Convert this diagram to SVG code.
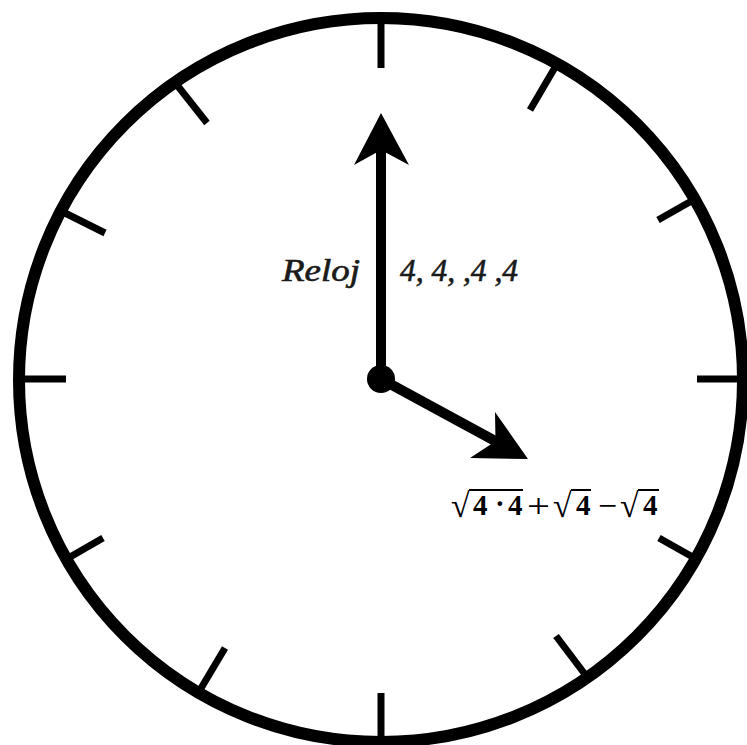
<svg xmlns="http://www.w3.org/2000/svg" width="747" height="745" viewBox="0 0 747 745">
<style>
.tick{stroke:#000;stroke-width:7;stroke-linecap:butt}
.hand{stroke:#000;stroke-width:10;fill:none}
.lbl{font-style:italic;font-size:31px;fill:#1a1a1a;stroke:#1a1a1a;stroke-width:0.6}
.eq{font-weight:bold;font-size:29px;fill:#000}
.op{font-size:34px;fill:#000}
.rad{font-size:34px;fill:#000}
.ovl{stroke:#000;stroke-width:2}
</style>
<rect width="747" height="745" fill="#fff"/>
<g id="dial">
<circle cx="381" cy="380" r="362" fill="none" stroke="#000" stroke-width="12"/>
<line class="tick" x1="381" y1="20" x2="381" y2="68"/>
<line class="tick" x1="557" y1="64" x2="530" y2="110"/>
<line class="tick" x1="695" y1="199" x2="658" y2="220"/>
<line class="tick" x1="744" y1="379" x2="697" y2="379"/>
<line class="tick" x1="698" y1="560" x2="659" y2="538"/>
<line class="tick" x1="584" y1="673" x2="556" y2="636"/>
<line class="tick" x1="381" y1="742" x2="381" y2="693"/>
<line class="tick" x1="200" y1="690" x2="225" y2="648"/>
<line class="tick" x1="70" y1="557" x2="103" y2="538"/>
<line class="tick" x1="18" y1="379" x2="66" y2="379"/>
<line class="tick" x1="63" y1="212" x2="105" y2="233"/>
<line class="tick" x1="177" y1="85" x2="207" y2="123"/>
</g>
<g id="connectors">
<g id="minute-hand">
<line class="hand" x1="381" y1="379" x2="381" y2="148"/>
<polygon points="381,113 409,165 381,150 354,165" fill="#000"/>
</g>
<g id="hour-hand">
<line class="hand" x1="381" y1="379" x2="497" y2="442"/>
<polygon points="528,459 495,412 495.5,441.3 470,458" fill="#000"/>
</g>
</g>
<g id="center">
<circle cx="381" cy="379" r="14" fill="#000"/>
</g>
<g id="label-reloj">
<text class="lbl" x="282" y="281" font-family="Liberation Serif, Times New Roman, serif" textLength="78" lengthAdjust="spacingAndGlyphs">Reloj</text>
</g>
<g id="label-fours">
<text class="lbl" x="400" y="281" font-family="Liberation Serif, Times New Roman, serif" textLength="118" lengthAdjust="spacingAndGlyphs">4, 4, ,4 ,4</text>
</g>
<g id="equation" font-family="Liberation Serif, Times New Roman, serif">
<text class="rad" x="451" y="517">√</text>
<line class="ovl" x1="469" y1="490" x2="523" y2="490"/>
<text class="eq" x="473" y="515">4</text>
<text class="eq" x="495" y="513">·</text>
<text class="eq" x="508" y="515">4</text>
<text class="op" x="527" y="517" textLength="23" lengthAdjust="spacingAndGlyphs">+</text>
<text class="rad" x="553" y="517">√</text>
<line class="ovl" x1="571" y1="490" x2="591" y2="490"/>
<text class="eq" x="576" y="515">4</text>
<text class="op" x="598" y="517" textLength="19" lengthAdjust="spacingAndGlyphs">−</text>
<text class="rad" x="620" y="517">√</text>
<line class="ovl" x1="638" y1="490" x2="659" y2="490"/>
<text class="eq" x="643" y="515">4</text>
</g>
</svg>
